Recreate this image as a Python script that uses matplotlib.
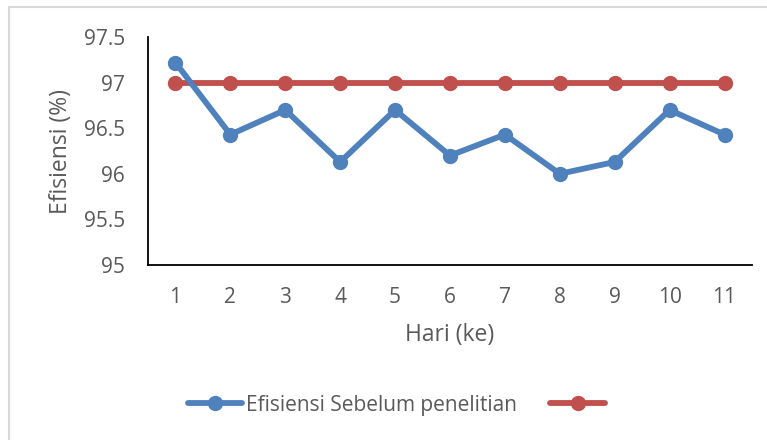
import matplotlib
matplotlib.use('Agg')
import matplotlib.pyplot as plt
from matplotlib.patches import Rectangle

# --- DATA ---
hari = [1, 2, 3, 4, 5, 6, 7, 8, 9, 10, 11]
efisiensi_sebelum = [97.22, 96.43, 96.7, 96.13, 96.7, 96.2, 96.43, 96.0, 96.13, 96.7, 96.43]
efisiensi_target = [97, 97, 97, 97, 97, 97, 97, 97, 97, 97, 97]
y_ticks = [95, 95.5, 96, 96.5, 97, 97.5]
y_tick_labels = ['95', '95.5', '96', '96.5', '97', '97.5']

BLUE = '#4F81BD'
RED = '#C0504D'
TEXT = '#595959'

plt.rcParams['font.family'] = ['Open Sans', 'DejaVu Sans']

W, H = 767, 440
fig = plt.figure(figsize=(W / 100, H / 100), dpi=100)
fig.patch.set_facecolor('white')

# outer chart border (light gray, cut at right/bottom)
fig.patches.append(Rectangle((9 / W, -0.05), 1.1, (H - 7) / H + 0.05,
                             transform=fig.transFigure, facecolor='none',
                             edgecolor='#D9D9D9', linewidth=1.5))

ax = fig.add_axes([148 / W, (H - 265) / H, (752 - 148) / W, (265 - 37) / H])
ax.set_facecolor('none')

l1, = ax.plot(hari, efisiensi_sebelum, color=BLUE, lw=4.2, marker='o', ms=10,
              solid_capstyle='round', zorder=3)
l2, = ax.plot(hari, efisiensi_target, color=RED, lw=4.2, marker='o', ms=10,
              solid_capstyle='round', zorder=2)

ax.set_xlim(0.5, 11.5)
ax.set_ylim(95, 97.5)
ax.set_xticks(hari)
ax.set_yticks(y_ticks)
ax.set_yticklabels(y_tick_labels)

for s in ['top', 'right']:
    ax.spines[s].set_visible(False)
for s in ['left', 'bottom']:
    ax.spines[s].set_color('black')
    ax.spines[s].set_linewidth(1.3)

ax.tick_params(axis='y', length=0, pad=16.5, labelsize=15, labelcolor=TEXT)
ax.tick_params(axis='x', length=0, pad=15.5, labelsize=15, labelcolor=TEXT)

ax.set_ylabel('Efisiensi (%)', fontsize=16.5, color=TEXT, va='center')
ax.yaxis.set_label_coords((61 - 148) / 604, 0.5)
ax.set_xlabel('Hari (ke)', fontsize=16.5, color=TEXT, labelpad=11)

fig.legend(handles=[l1, l2], labels=['Efisiensi Sebelum penelitian', ' '],
           loc='center', bbox_to_anchor=(401 / W, (H - 405) / H), ncol=2,
           frameon=False, fontsize=15, labelcolor=TEXT, handlelength=2.6,
           handletextpad=0.2, columnspacing=1.6)

plt.savefig('out.png', dpi=100, facecolor='white')
